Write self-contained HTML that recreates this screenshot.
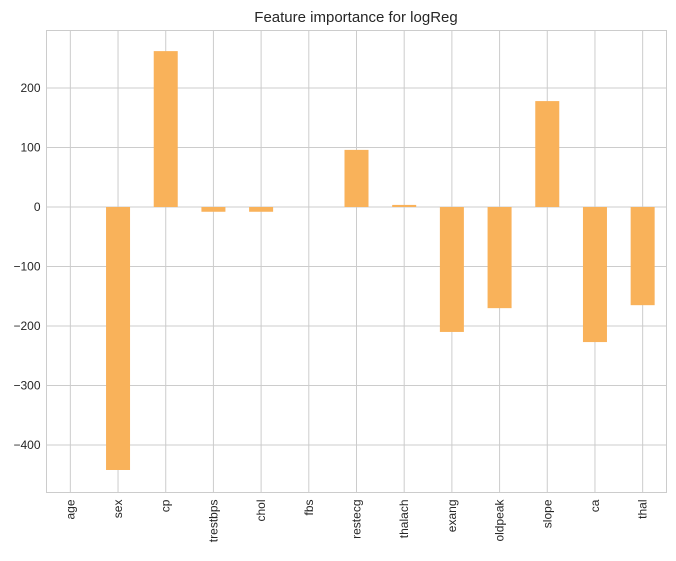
<!DOCTYPE html>
<html><head><meta charset="utf-8"><style>
body{margin:0;background:#fff;font-family:"Liberation Sans",sans-serif}
</style></head><body>
<svg id="c" width="676" height="556" xmlns="http://www.w3.org/2000/svg">
<text x="356" y="22" text-anchor="middle" font-size="15" fill="#262626">Feature importance for logReg</text>
</svg>
<script>
const categories=["age","sex","cp","trestbps","chol","fbs","restecg","thalach","exang","oldpeak","slope","ca","thal"];
const values=[0,-442,262,-8,-8,0,96,3.5,-210,-170,178,-227,-165];
const yTicks=[-400,-300,-200,-100,0,100,200];
const svg=document.getElementById('c');
const NS="http://www.w3.org/2000/svg";
const L=46.5,R=666.5,T=30.5,B=492.5;
const y=v=>207-v*0.595;
const step=(R-L)/categories.length;
const x=i=>L+step*(i+0.5);
function mk(t,a){const e=document.createElementNS(NS,t);for(const k in a)e.setAttribute(k,a[k]);svg.appendChild(e);return e;}
yTicks.forEach(v=>{
 const g=mk('line',{x1:L,x2:R,y1:y(v),y2:y(v),stroke:'#cccccc','stroke-width':1});
 
 
 const t=mk('text',{x:L-6,y:y(v)+4,'text-anchor':'end','font-size':12,fill:'#262626'});
 t.textContent=v<0?'\u2212'+(-v):String(v);
 
 
});
categories.forEach((c,i)=>{
 const g=mk('line',{x1:x(i),x2:x(i),y1:T,y2:B,stroke:'#cccccc','stroke-width':1});
 
 
});
categories.forEach((c,i)=>{
 const v=values[i];
 const r=mk('rect',{x:x(i)-12,y:Math.min(y(0),y(v)),width:24,height:Math.abs(y(v)-y(0)),fill:'#f9b25a'});
 
 
 const t=mk('text',{transform:`translate(${x(i)+4},${B+7}) rotate(-90)`,'text-anchor':'end','font-size':12,fill:'#262626'});
 t.textContent=c;
 
 
});
const f=mk('rect',{x:L,y:T,width:R-L,height:B-T,fill:'none',stroke:'#cccccc','stroke-width':1});


</script>
</body></html>
